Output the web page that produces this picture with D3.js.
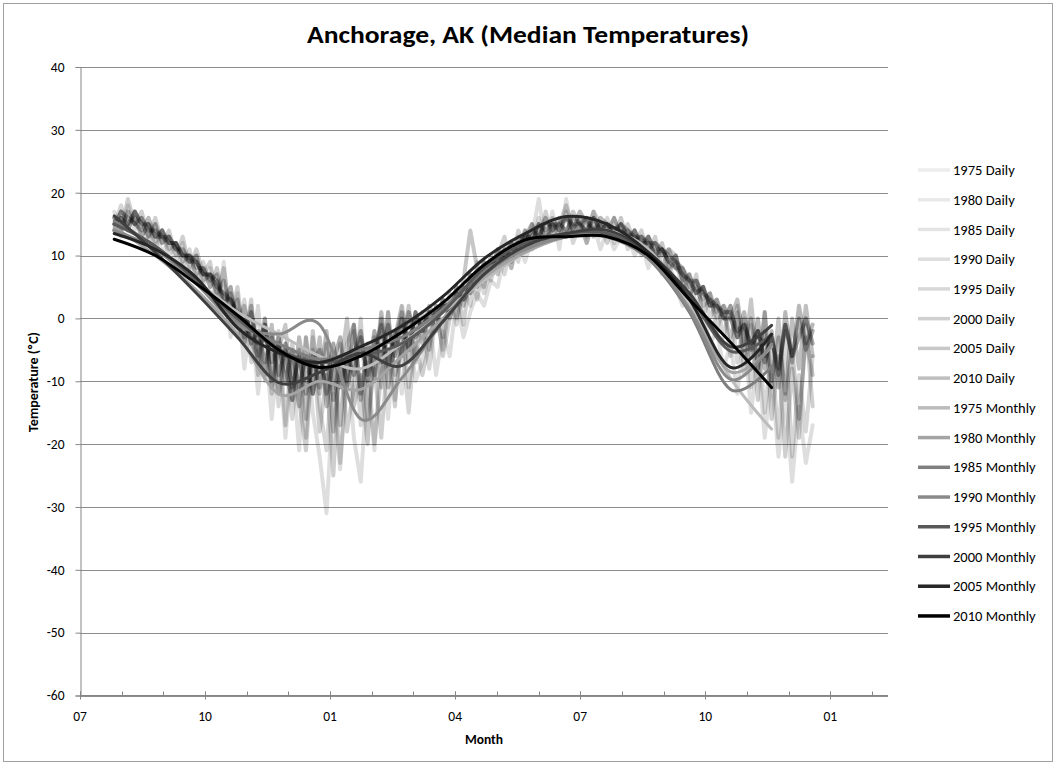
<!DOCTYPE html>
<html>
<head>
<meta charset="utf-8">
<script src="https://cdn.jsdelivr.net/npm/d3@7"></script>
<style>
  html, body { margin: 0; padding: 0; background: #fff; }
  svg { display: block; }
  text { font-family: Carlito, Calibri, Lato, "Liberation Sans", sans-serif; fill: #000; }
</style>
</head>
<body>
<script>
// ---------------- DATA ----------------
const chartTitle = "Anchorage, AK (Median Temperatures)";
const xTitle = "Month";
const yTitle = "Temperature (ºC)";
const monthTickLabels = ["07", "10", "01", "04", "07", "10", "01"];
const yTicks = [40, 30, 20, 10, 0, -10, -20, -30, -40, -50, -60];

// x values are days after 1 July (year 1)
const dailyStart = 25, dailyStep = 5;     // daily series sampled every 5 days
const monthlyDays = [25, 55, 85, 115, 145, 175, 205, 235, 265, 295, 325, 355, 385, 415, 445, 475, 505];

const years = ["1975", "1980", "1985", "1990", "1995", "2000", "2005", "2010"];

const daily1975 = [17,13,18,14,16,12,15,10,13,9,12,7,10,5,8,
  2,9,-3,4,-8,1,-12,-2,-16,-4,-19,-7,-21,-3,-15,
  -22,-31,-12,-24,-6,-19,-26,-10,-21,-4,-16,-2,-12,-1,-10,
  -7,0,-9,-2,-6,3,-3,1,4,2,6,5,10,8,12,
  9,13,19,12,17,11,19,13,16,12,15,11,14,11,13,
  13,10,12,8,11,7,9,5,2,4,-1,1,-4,-2,-8,
  -4,-12,-2,-15,-6,-19,-9,-22,-12,-26,-14,-23,-17];
const daily1980 = [15,18,14,17,13,15,11,14,10,12,8,11,6,9,5,
  6,1,5,-3,3,-7,2,-10,-2,-14,-4,-16,-6,-19,-3,
  -14,-21,-6,-23,-10,-2,-17,-7,-20,-9,1,-13,-4,-15,-3,
  -1,-8,1,-5,3,-1,5,2,9,4,8,11,7,12,9,
  14,11,16,12,15,13,17,12,15,14,17,13,16,12,15,
  11,14,10,13,9,11,7,10,4,7,2,5,0,3,-3,
  2,-7,0,-11,-2,-15,-5,-19,-2,-22,-9,-18,-6];
const daily1985 = [16,14,19,15,17,13,16,12,14,10,13,8,11,7,9,
  3,8,0,5,-4,3,-9,0,-12,-2,-17,-4,-13,-21,-5,
  -18,-9,-25,-4,-18,-11,0,-16,-8,-19,-5,-14,-1,-11,-4,
  -9,-4,2,-6,0,5,-1,7,3,9,6,10,13,8,14,
  11,15,12,17,13,15,18,14,16,13,17,15,12,16,13,
  15,12,14,10,13,8,11,10,6,3,7,0,4,-2,2,
  -6,2,-9,-1,-13,1,-16,-6,-22,-8,-19,-1,-14];
const daily1990 = [14,17,15,16,13,15,12,14,11,12,9,10,7,8,5,
  8,3,5,-1,2,-4,-6,0,-11,-5,-1,-13,-5,-16,-2,
  -12,-4,-18,-8,0,-14,-9,-20,-3,-11,1,-9,-5,2,-7,
  1,-5,2,-3,4,0,6,14,8,5,10,7,11,9,13,
  13,11,14,12,16,14,13,17,15,12,16,14,15,13,16,
  12,14,11,13,10,12,8,9,7,4,5,2,3,0,1,
  -3,1,-6,3,-8,-2,-11,0,-13,-5,-16,-3,-9];
const daily1995 = [15,16,14,17,15,13,15,12,13,11,10,9,10,6,7,
  4,6,1,3,-3,1,-5,-9,-1,-12,-4,-8,-14,-3,-12,
  -3,-14,-7,-17,-4,-1,-13,-5,-10,0,-11,-4,1,-7,0,
  -4,1,-2,3,0,4,2,6,5,8,7,10,9,12,11,
  14,12,15,13,14,16,13,15,14,16,13,15,14,16,13,
  14,12,13,11,12,10,11,8,8,5,6,3,4,1,2,
  0,3,-4,0,-8,1,-10,-3,-12,0,-8,2,-6];
const daily2000 = [16,14,17,15,14,16,13,13,12,12,10,10,8,8,6,
  7,2,4,-1,-4,2,-7,-1,-10,-3,-8,-13,-3,-10,-6,
  -11,-2,-13,-6,-10,-1,-12,-4,-9,1,-7,-3,2,-5,1,
  -2,2,0,3,1,5,3,7,6,9,7,11,10,12,11,
  13,15,13,16,14,15,16,14,17,15,14,16,15,13,15,
  13,14,12,13,11,11,9,10,6,7,4,5,2,3,0,
  2,-3,1,-6,0,-8,-2,-11,1,-7,2,-4,-1];
const daily2005 = [15,17,16,15,16,14,14,13,13,11,11,9,9,7,7,
  6,3,3,0,0,-4,-2,-7,-3,-9,-5,-11,-6,-12,-7,
  -5,-12,-7,-3,-11,-6,-2,-10,-5,-1,-8,-2,-6,1,-3,
  0,-1,1,2,1,4,3,5,6,7,8,9,10,11,12,
  12,14,13,15,15,14,16,15,15,16,14,15,15,14,15,
  14,13,13,12,12,11,10,9,8,6,6,4,3,2,1,
  1,-2,-1,-4,-2,-6,-3,-8,-1,-6,0,-5,-2];
const daily2010 = [14,16,15,17,15,15,13,14,12,12,10,10,9,7,7,
  5,4,3,1,0,-3,-4,-1,-7,-4,-10,-5,-11,-6,-12,
  -7,-10,-4,-11,-6,-9,-3,-9,-2,-7,-1,-6,0,-5,1,
  -2,1,0,2,2,3,5,4,7,6,9,8,11,10,12,
  13,13,15,14,15,15,14,16,15,14,16,14,15,14,14,
  13,13,12,12,10,11,9,8,7,6,4,5,2,2,0,
  0,-3,-1,-5,-2,-7,-3,-9,-1,-6,-3,0,-4];

const monthly1975 = [14, 11, 6, 1, -2.5, -6, -8, -4, 1, 6, 10.5, 13, 14, 11, 2, -9.5, -17.6];
const monthly1980 = [14.5, 10, 4.5, -2.5, -12, -10, -11.3, -6, 0, 6.5, 10.5, 13, 13, 9.5, 1.5, -8.5, -4.5];
const monthly1985 = [15.5, 11.5, 6, -0.5, -4, -6.5, -5, -3, 1.5, 7.5, 11, 13, 13, 9.5, 1, -11.3, -7.6];
const monthly1990 = [14, 11, 5.5, -1, -2.5, -1, -16, -9.5, -0.5, 7, 11, 13, 13.5, 10, 1.5, -9.7, -4.1];
const monthly1995 = [15, 11.5, 6, 0, -5, -7, -6, -4, 1, 8, 12, 13.5, 13.5, 10, 3.5, -5.2, -2.6];
const monthly2000 = [16.3, 10.5, 4, -3, -10.2, -8.6, -5.5, -7.5, -0.5, 7, 11.5, 13.5, 14, 10.5, 4, -4.5, -1.1];
const monthly2005 = [13.5, 11, 6.5, -1.5, -5.5, -7, -4.5, -1.2, 3.5, 9.5, 13.5, 16.2, 15, 10.5, 3, -7.8, -2.5];
const monthly2010 = [12.6, 10, 5.5, 0.5, -5, -7.8, -6, -2.2, 2.5, 8.5, 12.5, 13, 13, 10, 3, -3.8, -11];

const dailyValues = [daily1975, daily1980, daily1985, daily1990, daily1995, daily2000, daily2005, daily2010];
const monthlyValues = [monthly1975, monthly1980, monthly1985, monthly1990, monthly1995, monthly2000, monthly2005, monthly2010];

// ---------------- STYLE ----------------
const dailyOpacity = [0.13, 0.16, 0.19, 0.22, 0.25, 0.28, 0.31, 0.34];
const legendDailyColor = ["#ededed", "#e9e9e9", "#e4e4e4", "#dedede", "#d8d8d8", "#d0d0d0", "#c8c8c8", "#bfbfbf"];
const monthlyColor = ["#bcbcbc", "#a4a4a4", "#7f7f7f", "#8a8a8a", "#595959", "#3f3f3f", "#262626", "#000000"];

const W = 1056, H = 765;
const svg = d3.select("body").append("svg").attr("width", W).attr("height", H);

svg.append("rect").attr("x", 3.5).attr("y", 3.5).attr("width", 1049).attr("height", 758)
  .attr("fill", "#fff").attr("stroke", "#a0a0a0").attr("stroke-width", 1);

const daysPerMonth = 30.4375;
const x = d3.scaleLinear().domain([0, 590]).range([80, 888]);
const y = d3.scaleLinear().domain([-60, 40]).range([695.5, 67]);

// gridlines
svg.append("g").selectAll("line").data(yTicks).join("line")
  .attr("x1", x(0)).attr("x2", x(590))
  .attr("y1", d => Math.round(y(d)) + 0.5).attr("y2", d => Math.round(y(d)) + 0.5)
  .attr("stroke", "#8c8c8c").attr("stroke-width", 1);

// y axis
const yAxis = d3.axisLeft(y).tickValues(yTicks).tickSize(5).tickPadding(11).tickFormat(d => String(d));
const gy = svg.append("g").attr("transform", "translate(80.5,0)").call(yAxis);
gy.select(".domain").attr("stroke", "#868686");
gy.selectAll(".tick line").attr("stroke", "#868686");
gy.selectAll(".tick text").attr("font-size", 13.5).attr("fill", "#1a1a1a")
  .style("font-family", "Carlito, Calibri, Lato, sans-serif");

// x axis: minor ticks every month, major every 3 months
const minorTicks = d3.range(0, 20).map(k => k * daysPerMonth).filter(d => d <= 590);
const majorTicks = minorTicks.filter((d, k) => k % 3 === 0);
const gx = svg.append("g").attr("transform", "translate(0,695.5)");
gx.append("line").attr("x1", x(0)).attr("x2", x(590)).attr("stroke", "#868686");
gx.selectAll(".minor").data(minorTicks).join("line").attr("class", "minor")
  .attr("x1", d => Math.round(x(d)) + 0.5).attr("x2", d => Math.round(x(d)) + 0.5)
  .attr("y1", -4).attr("y2", 0).attr("stroke", "#868686");
gx.selectAll(".major").data(majorTicks).join("line").attr("class", "major")
  .attr("x1", d => Math.round(x(d)) + 0.5).attr("x2", d => Math.round(x(d)) + 0.5)
  .attr("y1", -4).attr("y2", 4).attr("stroke", "#868686");
gx.selectAll("text").data(majorTicks).join("text")
  .attr("x", d => x(d)).attr("y", 25).attr("text-anchor", "middle")
  .attr("font-size", 13.5).attr("fill", "#1a1a1a")
  .text((d, i) => monthTickLabels[i]);

// daily lines
const dailyLine = d3.line()
  .x((d, i) => x(dailyStart + i * dailyStep))
  .y(d => y(d));
svg.append("g").selectAll("path").data(dailyValues).join("path")
  .attr("d", d => dailyLine(d))
  .attr("fill", "none").attr("stroke", "#000")
  .attr("stroke-opacity", (d, i) => dailyOpacity[i])
  .attr("stroke-width", 4).attr("stroke-linejoin", "round").attr("stroke-linecap", "round");

// monthly smoothed lines
const monthlyLine = d3.line()
  .x((d, i) => x(monthlyDays[i]))
  .y(d => y(d))
  .curve(d3.curveCardinal.tension(0));
svg.append("g").selectAll("path").data(monthlyValues).join("path")
  .attr("d", d => monthlyLine(d))
  .attr("fill", "none").attr("stroke", (d, i) => monthlyColor[i])
  .attr("stroke-width", 3).attr("stroke-linecap", "round");

// titles
svg.append("text").attr("x", 528).attr("y", 43).attr("text-anchor", "middle")
  .attr("font-size", 25).attr("font-weight", "bold")
  .attr("textLength", 442).attr("lengthAdjust", "spacingAndGlyphs").text(chartTitle);
svg.append("text").attr("x", 484).attr("y", 744).attr("text-anchor", "middle")
  .attr("font-size", 13.5).attr("font-weight", "bold").text(xTitle);
svg.append("text").attr("transform", "translate(38,382) rotate(-90)").attr("text-anchor", "middle")
  .attr("font-size", 14).attr("font-weight", "bold").text(yTitle);

// legend
const legendItems = [];
years.forEach((yr, i) => legendItems.push({ label: yr + " Daily", type: "d", i }));
years.forEach((yr, i) => legendItems.push({ label: yr + " Monthly", type: "m", i }));
const lg = svg.append("g");
legendItems.forEach((it, k) => {
  const yy = 170 + k * 29.73;
  lg.append("line").attr("x1", 918).attr("x2", 950).attr("y1", yy).attr("y2", yy)
    .attr("stroke", it.type === "d" ? legendDailyColor[it.i] : monthlyColor[it.i])
    .attr("stroke-width", 3.5);
  lg.append("text").attr("x", 953).attr("y", yy).attr("dy", "0.35em")
    .attr("font-size", 14.5).attr("fill", "#1a1a1a").text(it.label);
});
</script>
</body>
</html>
